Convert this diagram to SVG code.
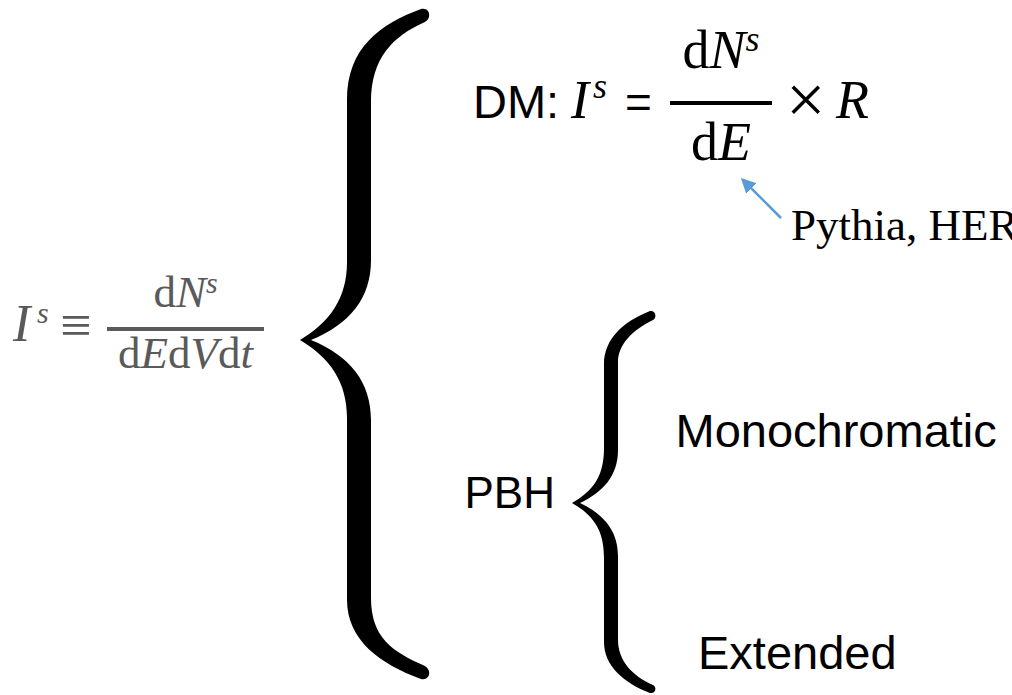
<svg xmlns="http://www.w3.org/2000/svg" width="1012" height="695" viewBox="0 0 1012 695">
  <defs>
    <style>
      .sans { font-family: "Liberation Sans", Arial, sans-serif; fill: #000; }
      .serif { font-family: "Liberation Serif", "Times New Roman", serif; fill: #000; }
      .it { font-style: italic; }
      .gray { fill: #5a5a5a; }
      .brace { fill: #000; }
      .arrow { stroke: #5b9bd5; stroke-width: 2.5; fill: none; }
    </style>
    <marker id="arrowhead" viewBox="0 0 10 10" refX="8" refY="5" markerWidth="6" markerHeight="6" orient="auto-start-reverse" markerUnits="strokeWidth">
      <path d="M0,0 L10,5 L0,10 Z" fill="#5b9bd5"/>
    </marker>
  </defs>
  <rect width="1012" height="695" fill="#fff"/>

  <!-- definition of the specific intensity -->
  <g id="definition">
    <text class="serif it gray" x="13" y="341" font-size="52">I</text>
    <text class="serif it gray" x="37" y="323" font-size="30">s</text>
    <text class="serif gray" x="60" y="344" font-size="56">≡</text>
    <text class="serif gray" x="185.5" y="307" font-size="45" text-anchor="middle">d<tspan class="it">N</tspan><tspan font-size="30" dy="-14" class="it">s</tspan></text>
    <rect class="gray" x="107" y="327" width="157" height="4"/>
    <text class="serif gray" x="185.5" y="368" font-size="45" text-anchor="middle">d<tspan class="it">E</tspan>d<tspan class="it">V</tspan>d<tspan class="it">t</tspan></text>
  </g>

  <!-- large brace -->
  <g id="brace-main">
    <path class="brace" d="M421,9 C430,7 432,18 425,22 C393,36 371,58 371,102 L371,260 C371,298 350,324 311,340 C350,356 371,382 371,420 L371,598 C371,638 393,652 425,666 C432,670 430,681 421,679 C380,664 347,640 347,600 L347,418 C347,382 330,358 300,340 C330,322 347,298 347,262 L347,100 C347,48 380,24 421,9 Z"/>
  </g>

  <!-- dark matter branch -->
  <g id="dm">
    <text class="sans" x="473" y="118" font-size="47">DM:</text>
    <text class="serif it" x="571" y="118" font-size="54">I</text>
    <text class="serif it" x="593" y="98" font-size="36">s</text>
    <text class="sans" x="625" y="118" font-size="46">=</text>
    <text class="serif" x="721" y="68" font-size="54" text-anchor="middle">d<tspan class="it">N</tspan><tspan font-size="36" dy="-17" class="it">s</tspan></text>
    <rect x="670" y="101" width="102" height="4" fill="#000"/>
    <text class="serif" x="721" y="160" font-size="54" text-anchor="middle">d<tspan class="it">E</tspan></text>
    <text class="serif" x="786" y="123" font-size="70">×</text>
    <text class="serif it" x="836" y="118" font-size="54">R</text>
  </g>

  <g id="generators">
    <text class="serif" x="791" y="240" font-size="45">Pythia, HER</text>
  </g>

  <!-- primordial black hole branch -->
  <g id="pbh">
    <text class="sans" x="555" y="508" font-size="44" text-anchor="end">PBH</text>
  </g>

  <g id="brace-pbh">
    <path class="brace" d="M650,311 C656,310 657,318 653,320 C632,330 618,345 618,362 L618,450 C618,476 603,492 580,503 C603,514 618,530 618,556 L618,640 C618,660 632,676 653,685 C657,687 656,694 650,693 C624,683 604,666 604,642 L604,558 C604,532 595,516 572,503 C595,490 604,474 604,448 L604,364 C604,340 622,322 650,311 Z"/>
  </g>

  <g id="monochromatic">
    <text class="sans" x="675.5" y="447" font-size="47">Monochromatic</text>
  </g>

  <g id="extended">
    <text class="sans" x="698" y="669" font-size="47">Extended</text>
  </g>

  <g id="connectors">
    <line class="arrow" x1="781" y1="218" x2="743" y2="180" marker-end="url(#arrowhead)"/>
  </g>
</svg>
